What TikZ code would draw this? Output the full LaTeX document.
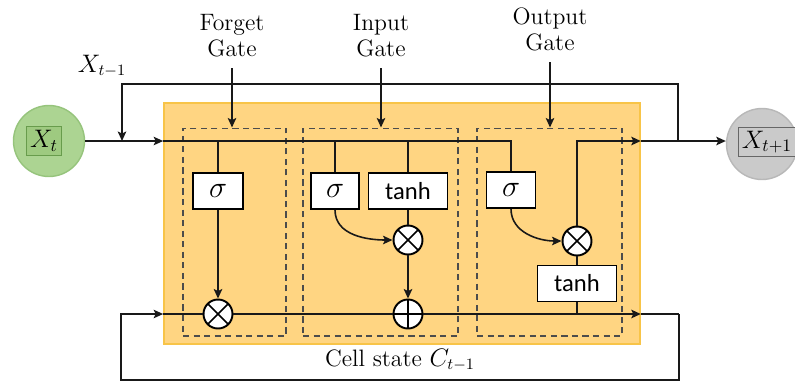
\documentclass[tikz,border=0pt]{standalone}
\usepackage{fontspec}
\newfontfamily\calibri{Carlito}
\usetikzlibrary{positioning, arrows.meta, calc}

\definecolor{cellfill}{RGB}{255,213,130}
\definecolor{celledge}{RGB}{248,196,72}
\definecolor{ingreen}{RGB}{172,212,146}
\definecolor{ingreenedge}{RGB}{150,196,124}
\definecolor{lblgreen}{RGB}{158,202,128}
\definecolor{lblgreenedge}{RGB}{104,156,76}
\definecolor{outgray}{RGB}{202,202,202}
\definecolor{outgrayedge}{RGB}{184,184,184}

\begin{document}
\begin{tikzpicture}[
    x=0.02cm, y=-0.02cm,
    font=\fontsize{13.5}{15}\selectfont,
    line/.style={line width=0.9pt, black!90},
    arr/.style={line, -{Stealth[length=1.9mm, width=1.7mm, inset=0.4mm]}},
    gatebox/.style={draw=gray!60!black, dash pattern=on 3.5pt off 2.5pt, line width=0.6pt, inner sep=0pt},
    sigbox/.style={draw, line width=1.1pt, fill=white, minimum width=1cm, minimum height=0.72cm, inner sep=0pt, font=\fontsize{16}{18}\selectfont},
    tanhbox/.style={sigbox, minimum width=1.58cm, font=\calibri\fontsize{14}{16}\selectfont},
    op/.style={circle, draw, line width=1.1pt, fill=white, minimum size=0.58cm, inner sep=0pt},
    timesop/.style={op, path picture={\draw[line width=0.9pt] (path picture bounding box.north west) -- (path picture bounding box.south east) (path picture bounding box.north east) -- (path picture bounding box.south west);}},
    plusop/.style={op, path picture={\draw[line width=0.9pt] (path picture bounding box.north) -- (path picture bounding box.south) (path picture bounding box.west) -- (path picture bounding box.east);}},
    cellio/.style={circle, minimum size=1.42cm, line width=0.8pt},
    iolbl/.style={draw, inner sep=2pt, line width=0.6pt, font=\fontsize{14}{16}\selectfont},
    gatelbl/.style={align=center, anchor=south, inner xsep=0pt, inner ysep=6pt}
]
\useasboundingbox (0,0) rectangle (795,387);

% === LSTM CELL BACKGROUND ===
\node[draw=celledge, fill=cellfill, line width=1pt, minimum width=9.52cm, minimum height=4.82cm, inner sep=0pt] (cell) at (402,223.5) {};

\node[gatebox, minimum width=2.06cm, minimum height=4.16cm] (fgate) at (234.5,232) {};
\node[gatebox, minimum width=3.1cm, minimum height=4.16cm] (igate) at (380.5,232) {};
\node[gatebox, minimum width=2.9cm, minimum height=4.16cm] (ogate) at (549.5,232) {};

% === INPUT AND OUTPUT ===
\node[cellio, draw=ingreenedge, fill=ingreen] (xt) at (49,141) {};
\node[iolbl, draw=lblgreenedge, fill=lblgreen] (xtlbl) at (44,141) {$X_t$};
\node[cellio, draw=outgrayedge, fill=outgray] (xt1) at (762,144) {};
\node[iolbl, draw=gray!80!black, fill=outgray] (xt1lbl) at (767,142) {$X_{t+1}$};
\node (xprev) at (102,66) {$X_{t-1}$};

% === GATE LABELS ===
\node[gatelbl] (flbl) at (232,68) {Forget\\Gate};
\node[gatelbl] (ilbl) at (381,68) {Input\\Gate};
\node[gatelbl] (olbl) at (550,62) {Output\\Gate};

\draw[arr] (flbl) -- (flbl |- fgate.north);
\draw[arr] (ilbl) -- (ilbl |- igate.north);
\draw[arr] (olbl) -- (olbl |- ogate.north);

% === GATE UNITS ===
\node[sigbox] (fsig) at (218,191) {$\sigma$};
\node[timesop] (fmul) at (218,314) {};

\node[sigbox, minimum width=0.96cm] (isig) at (335,191) {$\sigma$};
\node[tanhbox] (itanh) at (408,191) {tanh};
\node[timesop] (imul) at (408,240) {};
\node[plusop] (iadd) at (408,314) {};

\node[sigbox, minimum width=0.98cm] (osig) at (511,190) {$\sigma$};
\node[timesop] (omul) at (577,241) {};
\node[tanhbox] (otanh) at (577,283.5) {tanh};

% === HIDDEN STATE PATH ===
\draw[arr] (xt) -- (xt -| cell.west);
\draw[line] (xt -| cell.west) -| (osig);
\draw[line] (fsig) -- (fsig |- xt);
\draw[line] (isig) -- (isig |- xt);
\draw[line] (itanh) -- (itanh |- xt);

\draw[arr] (fsig) -- (fmul);
\draw[line] (itanh) -- (imul);
\draw[arr] (isig.south) to[out=-90, in=180] (imul.west);
\draw[arr] (imul) -- (iadd);
\draw[arr] (osig.south) to[out=-90, in=180] (omul.west);
\draw[line] (omul) -- (otanh);
\draw[line] (otanh) -- (otanh |- iadd);

\draw[arr] (omul) |- (xt -| cell.east);
\draw[arr] (xt -| cell.east) -- (xt -| xt1.west);

% feedback of the output
\coordinate (fbr) at (678,141);
\coordinate (fbl) at (122,141);
\draw[arr] (fbr) -- ++(0,-57) -| (fbl);

% === CELL STATE PATH ===
\draw[line] (cell.west |- fmul) -- (fmul);
\draw[line] (fmul) -- (iadd);
\draw[arr] (iadd) -- (iadd -| cell.east);

\coordinate (cbr) at (679,314);
\coordinate (cbl) at (121,314);
\draw[line] (iadd -| cell.east) -- (cbr);
\draw[arr] (cbr) -- ++(0,66) -| (cbl) -- (cbl -| cell.west);

\node (celltxt) at (400,360) {Cell state $C_{t-1}$};

\end{tikzpicture}
\end{document}
